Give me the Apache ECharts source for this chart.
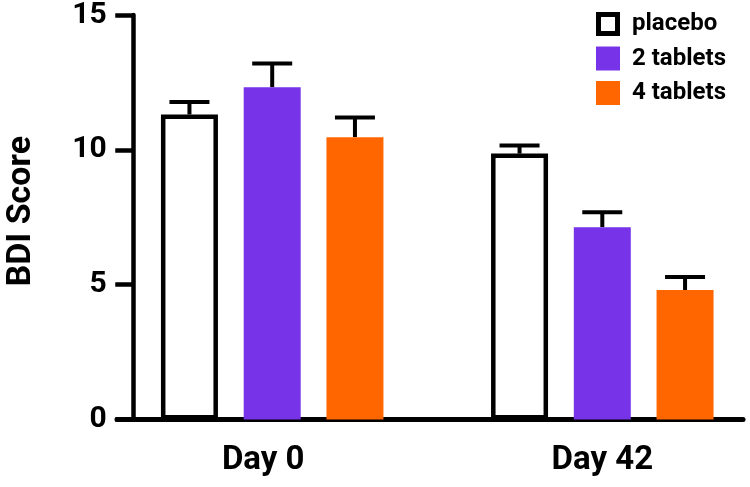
<!DOCTYPE html>
<html>
<head>
<meta charset="utf-8">
<script src="https://cdn.jsdelivr.net/npm/echarts@6/dist/echarts.min.js"></script>
<style>html,body{margin:0;padding:0;background:#fff;}#c{width:750px;height:487px;}</style>
</head>
<body>
<div id="c"></div>
<script>
// ---- data ----
const categories = ['Day 0', 'Day 42'];
const seriesNames = ['placebo', '2 tablets', '4 tablets'];
const placeboMean = [11.31, 9.86];
const placeboUpper = [11.77, 10.16];
const twoTabMean = [12.32, 7.13];
const twoTabUpper = [13.20, 7.69];
const fourTabMean = [10.47, 4.80];
const fourTabUpper = [11.20, 5.28];
const yTicks = [0, 5, 10, 15];

// ---- style constants ----
const FONT = 'Roboto';
const PURPLE = '#7633E8';
const ORANGE = '#FF6600';
const BAR_W = 57;
const GAP = 0.4518;
const PITCH = BAR_W * (1 + GAP);

const means = [placeboMean, twoTabMean, fourTabMean];
const uppers = [placeboUpper, twoTabUpper, fourTabUpper];

function errSeries(idx) {
  const data = categories.map((c, i) => [i, means[idx][i], uppers[idx][i]]);
  return {
    type: 'custom',
    name: seriesNames[idx] + ' err',
    xAxisIndex: 0, yAxisIndex: 0,
    z: 1,
    silent: true,
    clip: false,
    data: data,
    renderItem: function (params, api) {
      const off = (idx - 1) * PITCH;
      const base = api.coord([api.value(0), api.value(1)]);
      const top = api.coord([api.value(0), api.value(2)]);
      const x = base[0] + off;
      return {
        type: 'group',
        children: [
          { type: 'line', shape: { x1: x, y1: base[1], x2: x, y2: top[1] }, style: { stroke: '#000', lineWidth: 4 } },
          { type: 'line', shape: { x1: x - 20, y1: top[1], x2: x + 20, y2: top[1] }, style: { stroke: '#000', lineWidth: 4 } }
        ]
      };
    }
  };
}

const chart = echarts.init(document.getElementById('c'), null, { renderer: 'canvas' });
chart.setOption({
  animation: false,
  backgroundColor: '#fff',
  textStyle: { fontFamily: FONT },
  grid: [
    { left: 272.2, width: 330.1, top: 14.7, bottom: 67.5, containLabel: false },
    { left: 117, right: 7, top: 14.7, bottom: 67.5, containLabel: false }
  ],
  legend: {
    left: 591, top: 7, orient: 'vertical',
    itemWidth: 24, itemHeight: 24, itemGap: 10.5,
    textStyle: { fontFamily: FONT, fontWeight: 'bold', fontSize: 24, color: '#000', padding: [0, 0, 0, 7] },
    data: [
      { name: 'placebo', icon: 'path://M0,0H24V24H0Z M5,5V19H19V5Z', itemStyle: { color: '#000', borderWidth: 0 } },
      { name: '2 tablets', icon: 'rect', itemStyle: { borderWidth: 0 } },
      { name: '4 tablets', icon: 'rect', itemStyle: { borderWidth: 0 } }
    ]
  },
  xAxis: [
    {
      type: 'category', gridIndex: 0, boundaryGap: false, data: [
        { value: categories[0], textStyle: { padding: [0, 18, 0, 0] } },
        categories[1]
      ],
      axisLine: { show: false }, axisTick: { show: false },
      axisLabel: { fontFamily: FONT, fontWeight: 'bold', fontSize: 33, color: '#000', margin: 25 }
    },
    {
      type: 'value', gridIndex: 1, min: 0, max: 1,
      axisLine: { show: true, onZero: false, lineStyle: { color: '#000', width: 5 } },
      axisTick: { show: false }, axisLabel: { show: false }, splitLine: { show: false }
    }
  ],
  yAxis: [
    {
      type: 'value', gridIndex: 0, min: yTicks[0], max: yTicks[yTicks.length - 1], interval: 5,
      offset: 138.95,
      name: 'BDI Score', nameLocation: 'middle', nameGap: 95,
      nameTextStyle: { fontFamily: FONT, fontWeight: 'bold', fontSize: 34, color: '#000', padding: [0, 0, 0, 12] },
      axisLine: { show: true, onZero: false, lineStyle: { color: '#000', width: 4.5 } },
      axisTick: { show: true, length: 18, lineStyle: { color: '#000', width: 4.5 } },
      axisLabel: { fontFamily: FONT, fontWeight: 'bold', fontSize: 30, color: '#000', margin: 26.5 },
      splitLine: { show: false }
    },
    { type: 'value', gridIndex: 1, min: 0, max: 1, show: false }
  ],
  series: [
    {
      type: 'bar', name: seriesNames[0], data: placeboMean, barWidth: BAR_W, barGap: (GAP * 100) + '%',
      xAxisIndex: 0, yAxisIndex: 0, z: 2, clip: false,
      itemStyle: { color: '#fff', borderColor: '#000', borderWidth: 4.5 }
    },
    {
      type: 'bar', name: seriesNames[1], data: twoTabMean, barWidth: BAR_W, barGap: (GAP * 100) + '%',
      xAxisIndex: 0, yAxisIndex: 0, z: 2, clip: false,
      itemStyle: { color: PURPLE }
    },
    {
      type: 'bar', name: seriesNames[2], data: fourTabMean, barWidth: BAR_W, barGap: (GAP * 100) + '%',
      xAxisIndex: 0, yAxisIndex: 0, z: 2, clip: false,
      itemStyle: { color: ORANGE }
    },
    errSeries(0), errSeries(1), errSeries(2)
  ]
});
</script>
</body>
</html>
